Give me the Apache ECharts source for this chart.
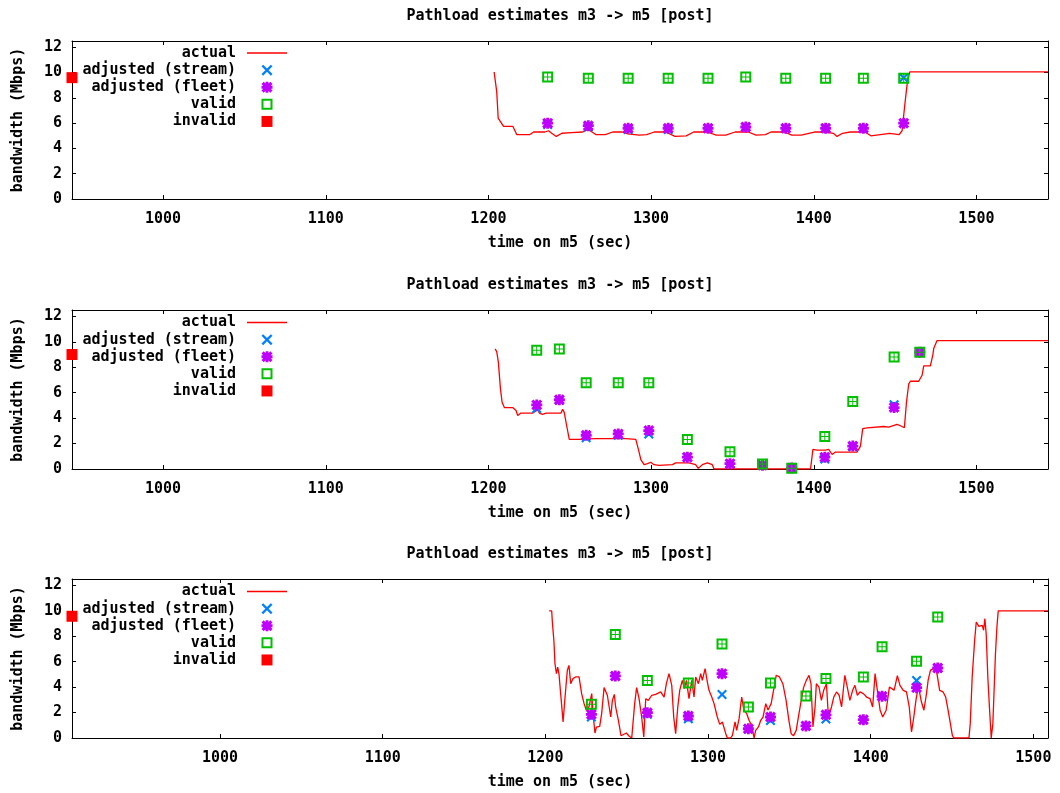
<!DOCTYPE html>
<html>
<head>
<meta charset="utf-8">
<script src="https://cdn.jsdelivr.net/npm/echarts@6/dist/echarts.min.js"></script>
<style>
html,body{margin:0;padding:0;background:#fff;}
#chart{width:1060px;height:793px;}
</style>
</head>
<body>
<div id="chart"></div>
<script>
// ---------------- data ----------------
const titleText = 'Pathload estimates m3 -> m5 [post]';
const seriesNames = ['actual', 'adjusted (stream)', 'adjusted (fleet)', 'valid', 'invalid'];
const xRanges = [[944, 1544], [944, 1544], [909, 1509]];
const yRange = [0, 12.5];

// panel 1
const p1Times  = [1236.4, 1261.4, 1285.9, 1310.5, 1335.0, 1358.2, 1382.8, 1407.3, 1430.5, 1455.3];
const p1Valid  = [9.66, 9.55, 9.55, 9.55, 9.55, 9.66, 9.55, 9.55, 9.55, 9.55];
const p1Fleet  = [6.0, 5.8, 5.6, 5.6, 5.6, 5.7, 5.6, 5.6, 5.6, 6.0];
const p1Stream = [5.9, 5.7, 5.5, 5.5, 5.6, 5.7, 5.6, 5.6, 5.6, 9.6];
const p1Invalid = [[944, 9.6]];
const p1Actual = [[1203.5,10.05],[1204.6,10.05],[1205.1,8.5],[1206,6.4],[1207,6.2],[1209.3,5.75],[1215,5.75],[1217.4,5.1],[1225.5,5.1],[1227.8,5.3],[1234.7,5.3],[1237,5.4],[1238.9,5.2],[1241.7,4.95],[1245.2,5.2],[1251,5.25],[1257.9,5.3],[1261.4,5.5],[1266,5.1],[1271.8,5.1],[1276.4,5.3],[1282.2,5.3],[1285.7,5.15],[1292.7,5.05],[1297.3,5.1],[1301.9,5.3],[1308.9,5.3],[1314.7,4.95],[1321.6,5.0],[1326.2,5.3],[1334.4,5.3],[1340.1,5.05],[1345.9,5.05],[1351.7,5.3],[1359.8,5.3],[1364.5,5.05],[1370.3,5.1],[1373.7,5.3],[1381.8,5.3],[1386.5,5.05],[1392.3,5.05],[1400.4,5.3],[1407.3,5.3],[1412,5.2],[1414.3,4.95],[1417.7,5.2],[1422.4,5.3],[1431.6,5.3],[1435.1,5.0],[1440.9,5.1],[1446.7,5.2],[1452.5,5.1],[1454.3,5.4],[1456,7.5],[1457.6,9.3],[1459,10.05],[1544,10.05]];

// panel 2
const p2Times  = [1229.7, 1243.6, 1260.1, 1279.8, 1298.6, 1322.3, 1348.5, 1368.5, 1386.5, 1406.8, 1424.0, 1449.4, 1465.2];
const p2Valid  = [9.34, 9.44, 6.79, 6.79, 6.79, 2.31, 1.35, 0.40, 0.05, 2.55, 5.3, 8.8, 9.18];
const p2Fleet  = [5.04, 5.44, 2.65, 2.76, 3.02, 0.93, 0.42, 0.30, 0.08, 0.93, 1.8, 4.83, 9.18];
const p2Stream = [4.75, 5.4, 2.45, 2.65, 2.75, 0.9, 0.4, 0.3, 0.08, 0.78, 1.75, 5.05, 9.18];
const p2Invalid = [[944, 9.0]];
const p2Actual = [[1204.1,9.44],[1205.1,9.23],[1206.1,8.4],[1207.4,6.3],[1208.4,5.25],[1209.8,4.83],[1214.9,4.83],[1217,4.6],[1218,4.2],[1220,4.4],[1227.2,4.4],[1230.3,4.64],[1231.3,4.4],[1233.3,4.3],[1235.4,4.4],[1244.6,4.4],[1245.6,4.7],[1246.6,4.45],[1248.1,3.4],[1249.7,2.33],[1255.8,2.33],[1266,2.39],[1276.3,2.39],[1284.5,2.39],[1290.6,2.33],[1292.2,1.54],[1293.7,0.74],[1295.7,0.34],[1297.8,0.42],[1299.8,0.53],[1301.8,0.34],[1304.9,0.29],[1313.1,0.34],[1315.1,0.48],[1323.3,0.48],[1327.4,0.34],[1329,0.05],[1331.5,0.34],[1334.6,0.48],[1337.6,0.34],[1338.7,0],[1398,0],[1399.5,1.54],[1402,1.49],[1407.2,1.49],[1409.2,1.54],[1411.3,1.14],[1413.3,1.33],[1426.6,1.33],[1428.7,1.8],[1430.1,3.18],[1432.8,3.24],[1443,3.34],[1446.1,3.3],[1451.2,3.5],[1453.3,3.4],[1455.7,3.24],[1457,5.25],[1458.4,6.7],[1459.4,6.9],[1464.5,6.9],[1466.6,7.37],[1467.6,8.1],[1471.7,8.1],[1473.2,8.97],[1473.8,9.5],[1475.8,10.1],[1544,10.1]];

// panel 3
const p3Times  = [1228.3, 1243.0, 1262.7, 1287.9, 1308.6, 1324.8, 1338.4, 1360.2, 1372.5, 1395.5, 1407.0, 1428.2, 1441.2];
const p3Valid  = [2.65, 8.13, 4.53, 4.33, 7.39, 2.44, 4.33, 3.3, 4.67, 4.8, 7.18, 6.03, 9.52];
const p3Fleet  = [1.86, 4.88, 1.99, 1.73, 5.06, 0.73, 1.65, 0.95, 1.82, 1.44, 3.28, 3.96, 5.5];
const p3Stream = [1.65, 4.85, 1.86, 1.52, 3.41, 0.7, 1.37, 0.95, 1.5, 1.44, 3.28, 4.53, 5.5];
const p3Invalid = [[909, 9.57]];
const p3Actual = [[1202.3,9.99],[1203.9,9.99],[1204.3,9.12],[1205.3,7.55],[1205.9,5.85],[1206.8,5.06],[1207.6,5.58],[1208.4,5.0],[1209.4,3.49],[1210.9,1.26],[1212.1,3.22],[1213.5,5.32],[1214.5,5.71],[1215.6,4.27],[1217,4.67],[1218.6,4.8],[1220.7,4.8],[1222.3,3.49],[1223.8,2.7],[1225.2,2.18],[1226.8,2.44],[1228.5,3.49],[1229.3,1.91],[1230.5,0.39],[1231.4,0.86],[1233.4,0.92],[1234.6,1.91],[1236.1,3.96],[1238.1,3.36],[1240.2,1.65],[1241.2,2.96],[1242.4,3.43],[1243.2,2.44],[1244.9,1.39],[1246.5,0.18],[1247.7,0.08],[1249.8,0.39],[1251.4,0.16],[1253.1,0],[1254.9,2.7],[1256.1,3.96],[1257.6,3.09],[1259.2,1.65],[1260.5,0.08],[1261.7,3.09],[1263.3,2.96],[1265.4,3.36],[1267.8,3.43],[1270.9,3.62],[1273,3.22],[1274.4,4.27],[1276,5.06],[1277.7,4.14],[1278.9,1.65],[1280.1,0.34],[1281.4,2.44],[1282.6,3.75],[1284.2,4.53],[1285.5,3.88],[1286.7,4.53],[1288.3,3.09],[1290,4.53],[1291.4,3.22],[1292.4,4.8],[1294.1,4.27],[1295.5,5.06],[1296.5,4.53],[1298.2,5.45],[1299.6,4.4],[1300.6,3.75],[1302.3,3.22],[1303.7,2.7],[1305.7,1.65],[1307.2,1.07],[1308.8,1.26],[1309.8,1.2],[1310.9,0.34],[1311.9,0],[1313.9,0],[1315,0.21],[1316.6,1.26],[1317.6,0.6],[1319.1,1.52],[1320.7,3.22],[1322.1,2.18],[1323.8,1.91],[1325.2,1.39],[1326.8,1.0],[1328.3,0],[1329.3,0.6],[1331,0.87],[1332.4,1.39],[1333.8,1.65],[1335.5,2.7],[1336.9,2.2],[1338.8,2.7],[1340.5,3.9],[1341.9,4.93],[1343.9,4.8],[1346,4.27],[1348,2.96],[1349.7,1.39],[1351.1,0.34],[1352.6,0.18],[1354.2,0.6],[1355.9,1.91],[1357.3,2.96],[1358.8,4.0],[1360.4,4.53],[1362.1,4.93],[1363.3,4.27],[1364.5,0.87],[1365.8,2.44],[1366.6,4.27],[1368.2,4.0],[1369.7,2.96],[1371.1,3.75],[1372.8,4.27],[1374,1.65],[1375.9,2.44],[1377.3,3.22],[1379,3.62],[1380.6,3.36],[1382.1,2.44],[1384.1,4.93],[1385.6,4.0],[1387.2,2.96],[1388.9,3.75],[1390.3,4.14],[1391.8,3.36],[1393.4,3.62],[1395.5,3.49],[1397.5,3.22],[1399.6,3.09],[1401.2,2.44],[1402.7,5.06],[1404.1,3.75],[1405.8,2.18],[1407.4,1.65],[1409.5,2.18],[1411.5,4.0],[1413,3.88],[1414.4,3.75],[1416.4,4.9],[1418,4.14],[1420,3.75],[1422,3.62],[1423.7,2.44],[1425.1,0.47],[1426.5,1.65],[1427.8,2.96],[1429.2,4.01],[1430.2,3.49],[1431.2,2.83],[1432.7,2.18],[1434.3,3.49],[1435.3,4.53],[1436.7,5.32],[1438.4,5.45],[1440.4,5.32],[1442.4,3.75],[1444.5,3.62],[1446.1,3.22],[1447.6,2.18],[1449,1.13],[1450.2,0.21],[1451,0],[1460.4,0],[1461.2,1.13],[1462.4,4.8],[1463.9,7.68],[1464.9,9.12],[1466.5,8.78],[1468.6,8.86],[1469.4,8.47],[1470.2,9.38],[1471,8.2],[1472,4.8],[1473.1,2.18],[1474.1,0],[1475.1,1.13],[1476.7,6.63],[1477.6,8.73],[1478.4,9.99],[1509,9.99]];

// ---------------- style ----------------
const FONT = 'DejaVu Sans Mono';
const txt = {color: '#000', fontFamily: FONT, fontWeight: 'bold', fontSize: 15};
const COL = {actual: '#ff0000', stream: '#0080ff', fleet: '#c000ff', valid: '#00c000', invalid: '#ff0000'};
const XPATH = 'path://M0,1.5L1.5,0L5,3.5L8.5,0L10,1.5L6.5,5L10,8.5L8.5,10L5,6.5L1.5,10L0,8.5L3.5,5Z';
const STARPATH = 'path://M0,2L2,0L5,3L8,0L10,2L7,5L10,8L8,10L5,7L2,10L0,8L3,5Z M3.7,0H6.3V3.7H10V6.3H6.3V10H3.7V6.3H0V3.7H3.7Z';
const VALIDPATH = 'path://M0,0H11V11H0Z M2,2V9H9V2Z M5,2H6V9H5Z M2,5H9V6H2Z';
const RINGPATH = 'path://M0,0H11V11H0Z M2,2V9H9V2Z';
const SQPATH = 'path://M0,0H10V10H0Z';
const LINEPATH = 'path://M0,0H40V1.4H0Z';

const grids = [
  {left: 72, top: 41, width: 976, height: 158},
  {left: 72, top: 310, width: 976, height: 159},
  {left: 72, top: 579, width: 976, height: 159}
];
const titleTops = [9, 278, 547];
const legendTops = [44.5, 314, 583];

const panels = [
  {times: p1Times, valid: p1Valid, fleet: p1Fleet, stream: p1Stream, invalid: p1Invalid, actual: p1Actual},
  {times: p2Times, valid: p2Valid, fleet: p2Fleet, stream: p2Stream, invalid: p2Invalid, actual: p2Actual},
  {times: p3Times, valid: p3Valid, fleet: p3Fleet, stream: p3Stream, invalid: p3Invalid, actual: p3Actual}
];

function pair(times, vals) { return times.map((t, i) => [t, vals[i]]); }
const plainNum = v => String(v);

const xAxis = [], yAxis = [], series = [], title = [], legend = [];
panels.forEach((p, gi) => {
  const [xmin, xmax] = xRanges[gi];
  [false, true].forEach(top => {
    xAxis.push({
      type: 'value', gridIndex: gi, min: xmin, max: xmax, splitNumber: 6,
      position: top ? 'top' : 'bottom',
      axisLine: {show: true, onZero: false, lineStyle: {color: '#000', width: 1}},
      axisTick: {show: true, inside: true, length: 4, lineStyle: {color: '#000', width: 1}},
      axisLabel: Object.assign({show: !top, showMinLabel: false, showMaxLabel: false, margin: 13, formatter: plainNum}, txt),
      splitLine: {show: false},
      name: top ? '' : 'time on m5 (sec)', nameLocation: 'middle', nameGap: 37,
      nameTextStyle: txt
    });
    yAxis.push({
      type: 'value', gridIndex: gi, min: yRange[0], max: yRange[1], interval: 2,
      position: top ? 'right' : 'left',
      axisLine: {show: true, onZero: false, lineStyle: {color: '#000', width: 1}},
      axisTick: {show: true, inside: true, length: 4, lineStyle: {color: '#000', width: 1}},
      axisLabel: Object.assign({show: !top, showMaxLabel: false, margin: 10, formatter: plainNum}, txt),
      splitLine: {show: false},
      name: top ? '' : 'bandwidth (Mbps)', nameLocation: 'middle', nameGap: 46,
      nameTextStyle: txt
    });
  });
  const xi = gi * 2, yi = gi * 2;
  series.push({
    name: seriesNames[0], type: 'line', xAxisIndex: xi, yAxisIndex: yi,
    data: p.actual, symbol: 'none', showSymbol: false,
    lineStyle: {color: COL.actual, width: 1.3}, itemStyle: {color: COL.actual},
    emphasis: {disabled: true}, z: 2
  });
  series.push({
    name: seriesNames[1], type: 'scatter', xAxisIndex: xi, yAxisIndex: yi,
    data: pair(p.times, p.stream), symbol: XPATH, symbolSize: 10, clip: false,
    itemStyle: {color: COL.stream, borderWidth: 0, opacity: 1}, emphasis: {disabled: true}, z: 3
  });
  series.push({
    name: seriesNames[2], type: 'scatter', xAxisIndex: xi, yAxisIndex: yi,
    data: pair(p.times, p.fleet), symbol: STARPATH, symbolSize: 11, clip: false,
    itemStyle: {color: COL.fleet, borderWidth: 0, opacity: 1}, emphasis: {disabled: true}, z: 4
  });
  series.push({
    name: seriesNames[3], type: 'scatter', xAxisIndex: xi, yAxisIndex: yi,
    data: pair(p.times, p.valid), symbol: VALIDPATH, symbolSize: 11, clip: false,
    itemStyle: {color: COL.valid, borderWidth: 0, opacity: 1}, emphasis: {disabled: true}, z: 5
  });
  series.push({
    name: seriesNames[4], type: 'scatter', xAxisIndex: xi, yAxisIndex: yi,
    data: p.invalid, symbol: SQPATH, symbolSize: 11, clip: false,
    itemStyle: {color: COL.invalid, borderWidth: 0, opacity: 1}, emphasis: {disabled: true}, z: 6
  });
  title.push({
    text: titleText, left: 560, top: titleTops[gi], textAlign: 'center', padding: 0,
    textStyle: txt
  });
  legend.push({
    orient: 'vertical', right: 773, top: legendTops[gi], padding: 0,
    align: 'right', itemWidth: 40, itemHeight: 11, itemGap: 0,
    selectedMode: false,
    textStyle: Object.assign({lineHeight: 17.1, padding: [0, 6, 0, 0]}, txt),
    itemStyle: {borderWidth: 0},
    data: [
      {name: seriesNames[0], icon: LINEPATH, itemStyle: {color: COL.actual}},
      {name: seriesNames[1], icon: XPATH, itemStyle: {color: COL.stream}},
      {name: seriesNames[2], icon: STARPATH, itemStyle: {color: COL.fleet}},
      {name: seriesNames[3], icon: RINGPATH, itemStyle: {color: COL.valid}},
      {name: seriesNames[4], icon: SQPATH, itemStyle: {color: COL.invalid}}
    ]
  });
});

const chart = echarts.init(document.getElementById('chart'), null, {renderer: 'canvas'});
chart.setOption({
  backgroundColor: '#fff',
  animation: false,
  title, legend, grid: grids, xAxis, yAxis, series,
  tooltip: {show: false}
});
</script>
</body>
</html>
